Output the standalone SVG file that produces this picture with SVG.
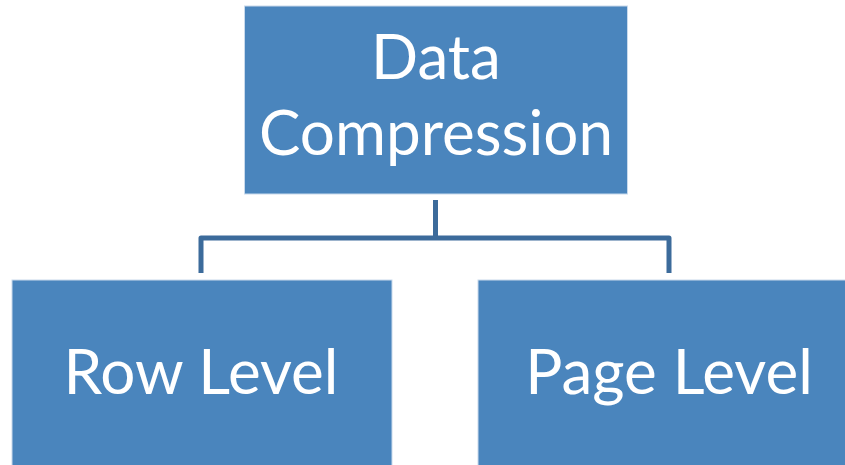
<svg xmlns="http://www.w3.org/2000/svg" width="845" height="465" viewBox="0 0 845 465">
<style>
.box{fill:#4a85bd;stroke:#c9daec;stroke-width:1}
.lbl{font-family:Lato,"Liberation Sans",sans-serif;font-size:62px;fill:#ffffff;text-anchor:middle}
.conn{fill:none;stroke:#3c6b9b;stroke-width:5;stroke-linejoin:round}
</style>
<rect width="845" height="465" fill="#ffffff"/>
<g id="connectors">
<path class="conn" d="M435.5,200 V238"/>
<path class="conn" d="M201,273 V238 H669 V273"/>
</g>
<g id="node-data-compression">
<rect class="box" x="244.5" y="6" width="383" height="188"/>
<text class="lbl" x="436" y="79">Data</text>
<text class="lbl" x="436" y="155">Compression</text>
</g>
<g id="node-row-level">
<rect class="box" x="12" y="280" width="380" height="195"/>
<text class="lbl" x="201" y="394">Row Level</text>
</g>
<g id="node-page-level">
<rect class="box" x="478" y="280" width="380" height="195"/>
<text class="lbl" x="669" y="394">Page Level</text>
</g>
</svg>
